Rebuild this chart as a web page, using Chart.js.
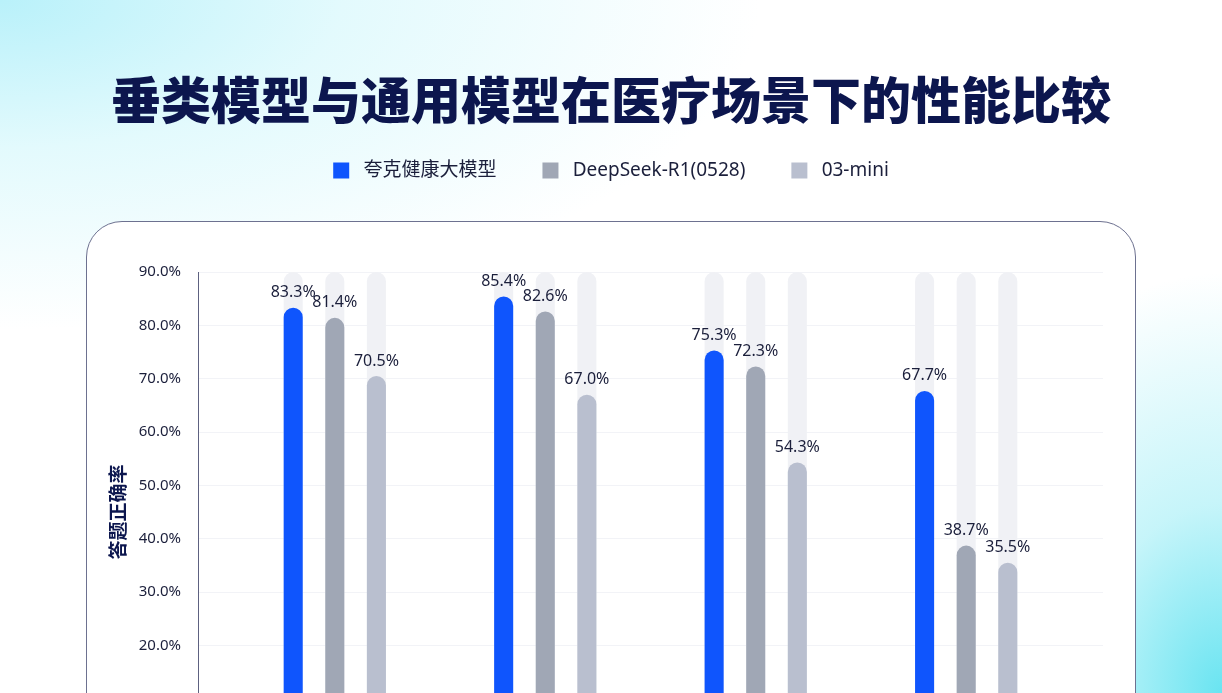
<!DOCTYPE html>
<html lang="zh-CN">
<head>
  <meta charset="UTF-8">
  <title>垂类模型与通用模型在医疗场景下的性能比较</title>
  <script src="https://cdn.jsdelivr.net/npm/chart.js"></script>
  <style>
    html, body { margin: 0; padding: 0; width: 1222px; height: 693px; overflow: hidden; }
    body {
      position: relative;
      background:
        radial-gradient(ellipse 760px 330px at 0% 0%, #b9f1fa 0%, rgba(215,248,252,0.7) 45%, rgba(255,255,255,0) 100%),
        radial-gradient(ellipse 300px 420px at 100% 100%, #69e4f1 0%, rgba(160,238,246,0.6) 45%, rgba(255,255,255,0) 100%),
        #ffffff;
    }
    #card {
      position: absolute; left: 86px; top: 221px; width: 1048px; height: 620px;
      border: 1.5px solid #6d7190; border-radius: 36px; background: #ffffff;
    }
    #chart { position: absolute; left: 0; top: 0; }
  </style>
</head>
<body>
<div id="card"></div>
<canvas id="chart" width="1222" height="880"></canvas>

<script>
  // values (percent)
  var categories = ['场景一', '场景二', '场景三', '场景四'];
  var seriesNames = ['夸克健康大模型', 'DeepSeek-R1(0528)', '03-mini'];
  var quark = [83.3, 85.4, 75.3, 67.7];
  var deepseek = [81.4, 82.6, 72.3, 38.7];
  var o3mini = [70.5, 67.0, 54.3, 35.5];
  var trackMax = 90;
  var yTicks = [0, 10, 20, 30, 40, 50, 60, 70, 80, 90];

  var colors = ['#0f55fd', '#a0a7b5', '#b9bfcf'];
  var trackColor = '#f0f1f5';
  var textColor = '#1b1f3b';

  function points(arr) {
    return arr.map(function(v, i) { return { x: i, y: v }; });
  }

  var seriesValues = [quark, deepseek, o3mini];
  var datasets = [];
  seriesValues.forEach(function(vals, k) {
    datasets.push({
      label: seriesNames[k],
      data: points(vals),
      backgroundColor: colors[k],
      stack: 's' + k,
      order: 1,
      borderRadius: 10,
      categoryPercentage: 0.593,
      barPercentage: 0.458
    });
  });
  // grey tracks behind each bar
  seriesValues.forEach(function(vals, k) {
    datasets.push({
      label: 'track' + k,
      data: points(vals.map(function() { return trackMax; })),
      backgroundColor: trackColor,
      stack: 's' + k,
      order: 2,
      borderRadius: 10,
      categoryPercentage: 0.593,
      barPercentage: 0.458
    });
  });

  // value labels above the bars
  var valueLabels = {
    id: 'valueLabels',
    afterDatasetsDraw: function(chart) {
      var ctx = chart.ctx;
      ctx.save();
      ctx.font = '16px "Noto Sans", "Noto Sans CJK SC", sans-serif';
      ctx.fillStyle = textColor;
      ctx.textAlign = 'center';
      ctx.textBaseline = 'middle';
      for (var d = 0; d < 3; d++) {
        chart.getDatasetMeta(d).data.forEach(function(bar, i) {
          ctx.fillText(seriesValues[d][i].toFixed(1) + '%', bar.x, bar.y - 15);
        });
      }
      ctx.restore();
    }
  };

  // extra room between legend and plot
  var legendGap = {
    id: 'legendGap',
    beforeInit: function(chart) {
      var fit = chart.legend.fit;
      chart.legend.fit = function() {
        fit.bind(chart.legend)();
        this.height += 82;
      };
    }
  };

  new Chart(document.getElementById('chart'), {
    type: 'bar',
    data: { datasets: datasets },
    options: {
      responsive: false,
      animation: false,
      layout: { padding: { left: 0, right: 0, top: 0, bottom: 128 } },
      plugins: {
        title: {
          display: true,
          text: '垂类模型与通用模型在医疗场景下的性能比较',
          color: '#0c164e',
          font: { family: '"Noto Sans CJK SC", sans-serif', size: 50, weight: '900' },
          padding: { top: 70, bottom: -15 }
        },
        legend: {
          display: true,
          labels: {
            filter: function(item) { return item.datasetIndex < 3; },
            generateLabels: function(chart) {
              var items = Chart.defaults.plugins.legend.labels.generateLabels(chart);
              items.forEach(function(it) { it.text = '\u2005' + it.text; });
              return items;
            },
            boxWidth: 16,
            boxHeight: 16,
            padding: 46,
            color: textColor,
            font: { family: '"Noto Sans", "Noto Sans CJK SC", sans-serif', size: 19 }
          }
        },
        tooltip: { enabled: false }
      },
      scales: {
        x: {
          type: 'linear',
          min: -0.65,
          max: 3.65,
          offset: false,
          display: false,
          ticks: {
            stepSize: 1,
            callback: function(v) { return categories[v]; }
          }
        },
        y: {
          stacked: false,
          min: 0,
          max: 90,
          afterFit: function(scale) { scale.width = 198; },
          afterBuildTicks: function(scale) {
            scale.ticks = yTicks.map(function(v) { return { value: v }; });
          },
          border: { display: true, color: '#5d6180', width: 1 },
          grid: { color: '#f2f3f7', drawTicks: false },
          ticks: {
            padding: 17,
            color: textColor,
            font: { family: '"Noto Sans", sans-serif', size: 15 },
            callback: function(v) { return v.toFixed(1) + '%'; }
          },
          title: {
            display: true,
            text: '答题正确率',
            color: '#0c164e',
            font: { family: '"Noto Sans CJK SC", sans-serif', size: 19, weight: 'bold' },
            padding: { top: 106, bottom: 0 }
          }
        },
        // empty right-hand axis that keeps the plot off the card's right side
        yPad: {
          position: 'right',
          min: 0,
          max: 90,
          afterFit: function(scale) { scale.width = 119; },
          grid: { display: false },
          border: { display: false },
          ticks: { display: false }
        }
      }
    },
    plugins: [valueLabels, legendGap]
  });
</script>
</body>
</html>
